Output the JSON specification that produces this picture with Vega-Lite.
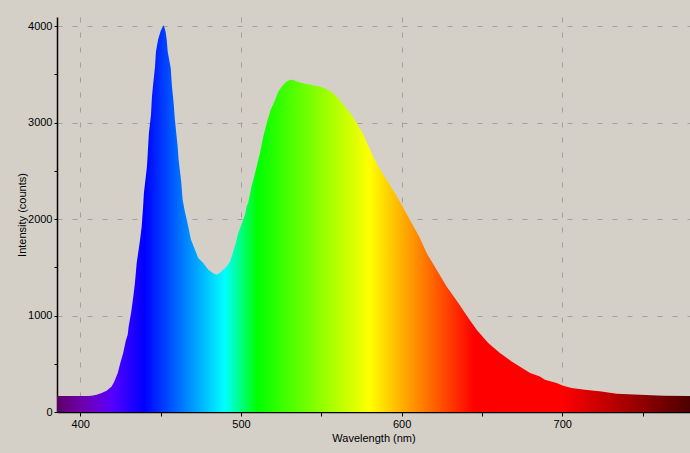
{
  "$schema": "https://vega.github.io/schema/vega-lite/v6.json",
  "width": 633,
  "height": 395,
  "autosize": {"type": "none"},
  "padding": {"left": 57, "top": 17, "right": 0, "bottom": 41},
  "background": "#d4d0c8",
  "data": {
    "values": [
      {"wl": 385.5, "counts": 165}, {"wl": 390, "counts": 165}, {"wl": 395, "counts": 166},
      {"wl": 400, "counts": 166}, {"wl": 405, "counts": 167}, {"wl": 407, "counts": 168},
      {"wl": 410.2, "counts": 179}, {"wl": 413.3, "counts": 197}, {"wl": 416.4, "counts": 221},
      {"wl": 419.5, "counts": 265}, {"wl": 421.2, "counts": 317}, {"wl": 423.3, "counts": 404},
      {"wl": 424.9, "counts": 508}, {"wl": 426.7, "counts": 611}, {"wl": 428.3, "counts": 740},
      {"wl": 429.5, "counts": 801}, {"wl": 430.1, "counts": 887}, {"wl": 431.6, "counts": 1026},
      {"wl": 433, "counts": 1198}, {"wl": 434, "counts": 1337}, {"wl": 435.1, "counts": 1544},
      {"wl": 437.2, "counts": 1785}, {"wl": 438.2, "counts": 1923}, {"wl": 439.1, "counts": 2130},
      {"wl": 439.6, "counts": 2272}, {"wl": 441.5, "counts": 2545}, {"wl": 442.7, "counts": 2891},
      {"wl": 444, "counts": 3081}, {"wl": 444.6, "counts": 3270}, {"wl": 445.2, "counts": 3374},
      {"wl": 446.5, "counts": 3581}, {"wl": 447.1, "counts": 3737}, {"wl": 448.4, "counts": 3860},
      {"wl": 450, "counts": 3950}, {"wl": 451.7, "counts": 4010}, {"wl": 452.3, "counts": 3990},
      {"wl": 453.1, "counts": 3944}, {"wl": 453.8, "counts": 3858}, {"wl": 454.4, "counts": 3737},
      {"wl": 456.3, "counts": 3565}, {"wl": 457, "counts": 3392}, {"wl": 458.1, "counts": 3202},
      {"wl": 458.9, "counts": 3029}, {"wl": 460.6, "counts": 2752}, {"wl": 461.2, "counts": 2615},
      {"wl": 462.8, "counts": 2390}, {"wl": 463.7, "counts": 2200}, {"wl": 465.2, "counts": 2068},
      {"wl": 466.2, "counts": 1998}, {"wl": 467.6, "counts": 1889}, {"wl": 468.9, "counts": 1785},
      {"wl": 471.4, "counts": 1682}, {"wl": 473.4, "counts": 1596}, {"wl": 476.5, "counts": 1544},
      {"wl": 479.7, "counts": 1475}, {"wl": 482.8, "counts": 1440}, {"wl": 484.9, "counts": 1423},
      {"wl": 487, "counts": 1445}, {"wl": 489, "counts": 1475}, {"wl": 491.1, "counts": 1509},
      {"wl": 493.2, "counts": 1561}, {"wl": 494.8, "counts": 1640}, {"wl": 496.9, "counts": 1760},
      {"wl": 498.3, "counts": 1855}, {"wl": 500.4, "counts": 1950}, {"wl": 502.5, "counts": 2045},
      {"wl": 503.5, "counts": 2130}, {"wl": 504.5, "counts": 2170}, {"wl": 506.6, "counts": 2338},
      {"wl": 509.3, "counts": 2511}, {"wl": 511.8, "counts": 2684}, {"wl": 513.9, "counts": 2856},
      {"wl": 516, "counts": 2995}, {"wl": 518.5, "counts": 3133}, {"wl": 521.2, "counts": 3236},
      {"wl": 523.2, "counts": 3322}, {"wl": 525.3, "counts": 3374}, {"wl": 528.4, "counts": 3426},
      {"wl": 530.5, "counts": 3444}, {"wl": 532.5, "counts": 3445}, {"wl": 534.7, "counts": 3426},
      {"wl": 537.5, "counts": 3415}, {"wl": 540.9, "counts": 3402}, {"wl": 544, "counts": 3390},
      {"wl": 547.1, "counts": 3381}, {"wl": 550, "counts": 3370}, {"wl": 552.3, "counts": 3357},
      {"wl": 555, "counts": 3330}, {"wl": 557.4, "counts": 3305}, {"wl": 560.5, "counts": 3254},
      {"wl": 564.7, "counts": 3167}, {"wl": 568.9, "counts": 3081}, {"wl": 572, "counts": 2995},
      {"wl": 576.1, "counts": 2880}, {"wl": 579.2, "counts": 2760}, {"wl": 582.3, "counts": 2649},
      {"wl": 585.4, "counts": 2545}, {"wl": 590.7, "counts": 2407}, {"wl": 595.8, "counts": 2269},
      {"wl": 600, "counts": 2148}, {"wl": 606.2, "counts": 1959}, {"wl": 610.9, "counts": 1820},
      {"wl": 615.6, "counts": 1648}, {"wl": 621.8, "counts": 1475}, {"wl": 628, "counts": 1302},
      {"wl": 635.3, "counts": 1129}, {"wl": 640.9, "counts": 991}, {"wl": 646.7, "counts": 853},
      {"wl": 653.9, "counts": 715}, {"wl": 661.2, "counts": 611}, {"wl": 668.5, "counts": 524},
      {"wl": 676.7, "counts": 438}, {"wl": 680, "counts": 404}, {"wl": 686.1, "counts": 369},
      {"wl": 689.2, "counts": 335}, {"wl": 696.5, "counts": 300}, {"wl": 700.6, "counts": 273},
      {"wl": 705.8, "counts": 249}, {"wl": 714.1, "counts": 231}, {"wl": 724.4, "counts": 213},
      {"wl": 733.8, "counts": 190}, {"wl": 748.3, "counts": 179}, {"wl": 762.8, "counts": 169},
      {"wl": 779.5, "counts": 166}
    ]
  },
  "mark": {
    "type": "area",
    "interpolate": "linear",
    "color": {
      "gradient": "linear",
      "x1": 0, "y1": 0, "x2": 1, "y2": 0,
      "stops": [
        {"offset": 0, "color": "#5c0065"},
        {"offset": 0.0368, "color": "#6e00a6"},
        {"offset": 0.0622, "color": "#6900d2"},
        {"offset": 0.0876, "color": "#5500ff"},
        {"offset": 0.1383, "color": "#0000ff"},
        {"offset": 0.2652, "color": "#00ffff"},
        {"offset": 0.316, "color": "#00ff00"},
        {"offset": 0.4937, "color": "#ffff00"},
        {"offset": 0.6586, "color": "#ff0000"},
        {"offset": 0.7982, "color": "#ff0000"},
        {"offset": 0.8997, "color": "#a60000"},
        {"offset": 1, "color": "#4e0000"}
      ]
    }
  },
  "encoding": {
    "x": {
      "field": "wl",
      "type": "quantitative",
      "title": "Wavelength (nm)",
      "scale": {"domain": [385.5, 779.5], "nice": false, "zero": false},
      "axis": {
        "values": [400, 450, 500, 550, 600, 650, 700, 750],
        "labelExpr": "datum.value % 100 == 0 ? datum.label : ''",
        "tickSize": 4,
        "labelPadding": 2,
        "titlePadding": 3,
        "gridOpacity": {"condition": {"test": "datum.value % 100 == 0", "value": 1}, "value": 0}
      }
    },
    "y": {
      "field": "counts",
      "type": "quantitative",
      "title": "Intensity (counts)",
      "scale": {"domain": [0, 4096], "nice": false},
      "axis": {
        "values": [0, 500, 1000, 1500, 2000, 2500, 3000, 3500, 4000],
        "labelExpr": "datum.value % 1000 == 0 ? datum.label : ''",
        "format": "d",
        "tickSize": 3,
        "labelPadding": 2,
        "titlePadding": 0,
        "gridOpacity": {"condition": {"test": "datum.value % 1000 == 0 && datum.value > 0", "value": 1}, "value": 0}
      }
    }
  },
  "config": {
    "view": {"stroke": null},
    "axis": {
      "grid": true,
      "gridColor": "#a0a0a0",
      "gridDash": [5, 10],
      "gridWidth": 1,
      "domainColor": "#000000",
      "domainWidth": 1.5,
      "tickColor": "#000000",
      "tickWidth": 1,
      "labelFont": "Liberation Sans",
      "labelFontSize": 11,
      "labelColor": "#000000",
      "titleFont": "Liberation Sans",
      "titleFontSize": 11,
      "titleFontWeight": "normal",
      "titleColor": "#000000"
    }
  }
}
